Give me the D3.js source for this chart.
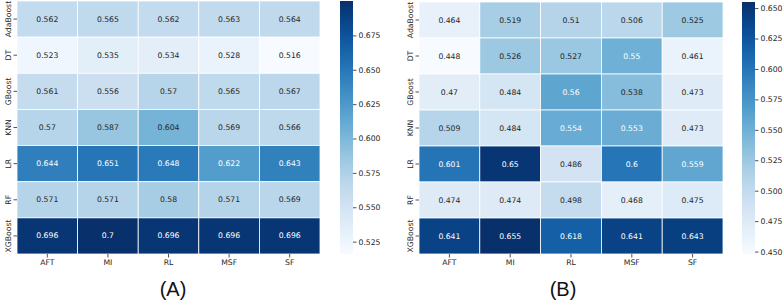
<!DOCTYPE html>
<html>
<head>
    <style>
        body { margin: 0; background: #fff; }
        svg text { font-family: "DejaVu Sans", sans-serif; }
        .tick text { font-size: 7.7px; fill: #262626; }
        .tick line { stroke: #262626; stroke-width: 0.8; }
        .panel-label { font-family: "Liberation Sans", Arial, sans-serif; font-size: 20px; fill: #111; }
    </style>
    <script src="https://d3js.org/d3.v7.min.js"></script>
</head>
<body>
<svg width="783" height="303"></svg>
<script>
    var models = ["AdaBoost", "DT", "GBoost", "KNN", "LR", "RF", "XGBoost"];
    var methods = ["AFT", "MI", "RL", "MSF", "SF"];

    var valuesA = [
        [0.562, 0.565, 0.562, 0.563, 0.564],
        [0.523, 0.535, 0.534, 0.528, 0.516],
        [0.561, 0.556, 0.57, 0.565, 0.567],
        [0.57, 0.587, 0.604, 0.569, 0.566],
        [0.644, 0.651, 0.648, 0.622, 0.643],
        [0.571, 0.571, 0.58, 0.571, 0.569],
        [0.696, 0.7, 0.696, 0.696, 0.696]
    ];
    var valuesB = [
        [0.464, 0.519, 0.51, 0.506, 0.525],
        [0.448, 0.526, 0.527, 0.55, 0.461],
        [0.47, 0.484, 0.56, 0.538, 0.473],
        [0.509, 0.484, 0.554, 0.553, 0.473],
        [0.601, 0.65, 0.486, 0.6, 0.559],
        [0.474, 0.474, 0.498, 0.468, 0.475],
        [0.641, 0.655, 0.618, 0.641, 0.643]
    ];
    var ticksA = [0.525, 0.550, 0.575, 0.600, 0.625, 0.650, 0.675];
    var ticksB = [0.450, 0.475, 0.500, 0.525, 0.550, 0.575, 0.600, 0.625, 0.650];

    var svg = d3.select("svg");

    // relative luminance, like seaborn uses to pick annotation colour
    function lum(c) {
        var rgb = d3.rgb(c);
        var f = function(v) {
            v = v / 255;
            return v <= 0.03928 ? v / 12.92 : Math.pow((v + 0.055) / 1.055, 2.4);
        };
        return 0.2126 * f(rgb.r) + 0.7152 * f(rgb.g) + 0.0722 * f(rgb.b);
    }

    function heatmap(id, values, ticks, label, box) {
        var g = svg.append("g").attr("id", id);
        var flat = d3.merge(values);
        var color = d3.scaleSequential(d3.interpolateBlues).domain(d3.extent(flat));

        var x = d3.scaleBand().domain(methods).range([box.x0, box.x1]);
        var y = d3.scaleBand().domain(models).range([box.y0, box.y1]);

        var rows = g.selectAll(".row")
            .data(values)
            .enter().append("g")
            .attr("class", "row");

        var cells = rows.selectAll(".cell")
            .data(function(d, i) {
                return d.map(function(v, j) { return { row: models[i], col: methods[j], v: v }; });
            })
            .enter();

        cells.append("rect")
            .attr("x", function(d) { return x(d.col); })
            .attr("y", function(d) { return y(d.row); })
            .attr("width", x.bandwidth())
            .attr("height", y.bandwidth())
            .attr("fill", function(d) { return color(d.v); })
            .attr("stroke", "#fff")
            .attr("stroke-width", 0.8);

        cells.append("text")
            .attr("x", function(d) { return x(d.col) + x.bandwidth() / 2; })
            .attr("y", function(d) { return y(d.row) + y.bandwidth() / 2; })
            .attr("text-anchor", "middle")
            .attr("dominant-baseline", "central")
            .style("font-size", "7.7px")
            .attr("fill", function(d) { return lum(color(d.v)) > 0.408 ? "#262626" : "#ffffff"; })
            .text(function(d) { return String(d.v); });

        // x axis
        var xa = g.append("g")
            .attr("transform", "translate(0," + box.y1 + ")")
            .call(d3.axisBottom(x).tickSize(3.5).tickPadding(2));
        xa.select(".domain").remove();

        // y axis with rotated labels
        var ya = g.append("g")
            .attr("transform", "translate(" + box.x0 + ",0)")
            .call(d3.axisLeft(y).tickSize(3.5).tickPadding(2));
        ya.select(".domain").remove();
        ya.selectAll(".tick text")
            .attr("x", 0).attr("dy", null)
            .attr("text-anchor", "middle")
            .attr("dominant-baseline", "central")
            .attr("transform", "translate(-9,0) rotate(-90)");

        // colorbar
        var cy = d3.scaleLinear().domain(color.domain()).range([box.y1, box.y0]);
        var gradId = id + "-grad";
        var grad = svg.append("defs").append("linearGradient")
            .attr("id", gradId)
            .attr("x1", 0).attr("y1", 1).attr("x2", 0).attr("y2", 0);
        d3.range(0, 1.0001, 0.05).forEach(function(t) {
            grad.append("stop").attr("offset", t).attr("stop-color", d3.interpolateBlues(t));
        });
        g.append("rect")
            .attr("x", box.cb)
            .attr("y", box.y0)
            .attr("width", 13)
            .attr("height", box.y1 - box.y0)
            .attr("fill", "url(#" + gradId + ")");
        var ca = g.append("g")
            .attr("transform", "translate(" + (box.cb + 13) + ",0)")
            .call(d3.axisRight(cy).tickValues(ticks).tickFormat(d3.format(".3f")).tickSize(3.5).tickPadding(2));
        ca.select(".domain").remove();

        g.append("text")
            .attr("class", "panel-label")
            .attr("x", box.lx)
            .attr("y", 296)
            .attr("text-anchor", "middle")
            .text(label);
    }

    heatmap("A", valuesA, ticksA, "(A)", { x0: 17, x1: 320, y0: 1, y1: 254, cb: 340, lx: 173 });
    heatmap("B", valuesB, ticksB, "(B)", { x0: 419, x1: 723, y0: 2, y1: 254, cb: 742, lx: 563 });
</script>
</body>
</html>
